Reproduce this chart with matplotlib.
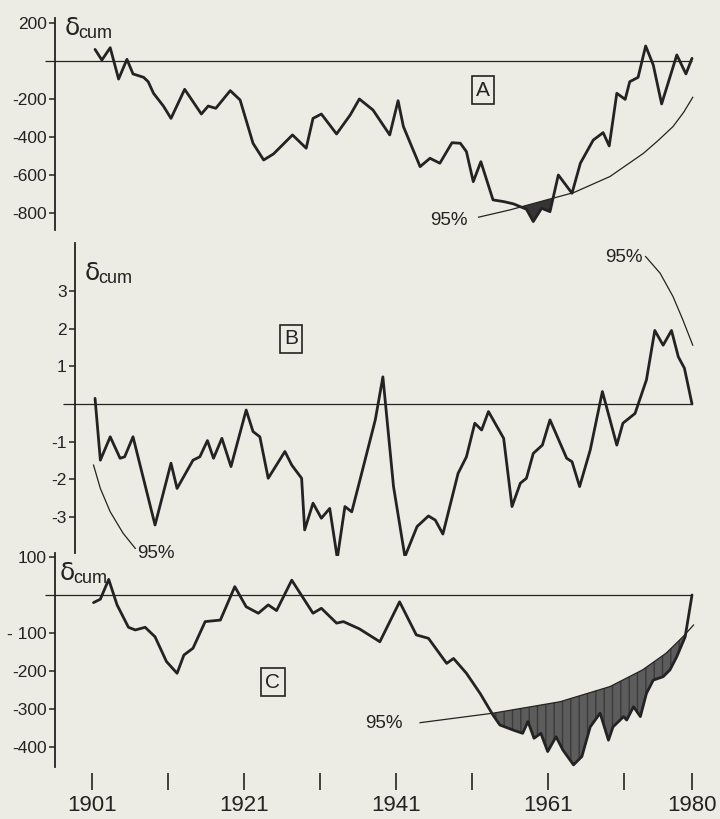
import numpy as np
import matplotlib.pyplot as plt

plt.rcParams['font.family'] = ['Liberation Sans', 'DejaVu Sans']

# cumulative deviations, panel A
yearsA = [1901.4, 1902.3, 1903.4, 1904.5, 1905.6, 1906.4, 1907.8, 1908.4, 1909.1, 1910.4,
          1911.4, 1913.2, 1915.4, 1916.3, 1917.3, 1919.2, 1920.5, 1922.2, 1923.6, 1924.9,
          1927.4, 1929.2, 1930.1, 1931.2, 1933.2, 1935.0, 1936.2, 1938.0, 1940.2, 1941.3,
          1942.0, 1944.2, 1945.5, 1946.8, 1948.4, 1949.5, 1950.3, 1951.2, 1952.2, 1953.8,
          1955.2, 1956.5, 1958.2, 1959.1, 1960.2, 1961.3, 1962.4, 1964.2, 1965.3, 1967.0,
          1968.3, 1969.1, 1970.1, 1971.2, 1971.8, 1972.9, 1973.9, 1974.9, 1976.0, 1978.0,
          1979.2, 1980.0]
cumA = [61, 5, 70, -95, 9, -68, -86, -109, -170, -237,
        -302, -149, -279, -237, -249, -156, -205, -433, -521, -489,
        -389, -459, -302, -279, -384, -284, -200, -258, -389, -209,
        -345, -556, -512, -538, -430, -433, -477, -635, -530, -731,
        -740, -752, -780, -845, -775, -793, -600, -696, -538, -416,
        -377, -447, -170, -202, -109, -86, 79, -21, -226, 32,
        -68, 14]
bandA_years = [1951.9, 1956.0, 1960.4, 1964.4, 1969.2, 1973.6, 1975.5, 1977.5, 1978.9, 1980.1]
bandA = [-822, -784, -736, -693, -608, -486, -420, -345, -270, -191]

# panel B
yearsB = [1901.4, 1902.1, 1903.4, 1904.7, 1905.3, 1906.4, 1909.3, 1911.4, 1912.2, 1914.3,
          1915.2, 1916.2, 1917.0, 1918.1, 1919.3, 1921.3, 1922.2, 1923.1, 1924.2, 1926.4,
          1927.3, 1928.6, 1929.0, 1930.1, 1931.2, 1932.3, 1933.3, 1934.3, 1935.2, 1936.3,
          1938.3, 1939.3, 1940.7, 1942.2, 1943.8, 1945.3, 1946.2, 1947.2, 1949.2, 1950.3,
          1951.4, 1952.3, 1953.2, 1955.2, 1956.3, 1957.4, 1958.2, 1959.1, 1960.3, 1961.3,
          1963.5, 1964.2, 1965.2, 1966.6, 1968.2, 1970.1, 1970.9, 1972.5, 1974.0, 1975.1,
          1976.2, 1977.3, 1978.2, 1979.0, 1980.0]
cumB = [0.15, -1.49, -0.87, -1.44, -1.40, -0.87, -3.21, -1.57, -2.24, -1.49,
        -1.40, -0.97, -1.44, -0.91, -1.66, -0.16, -0.73, -0.87, -1.97, -1.26,
        -1.62, -1.97, -3.34, -2.63, -3.03, -2.77, -4.09, -2.72, -2.86, -2.0,
        -0.42, 0.72, -2.19, -4.05, -3.25, -2.97, -3.08, -3.45, -1.84, -1.40,
        -0.51, -0.69, -0.20, -0.91, -2.72, -2.10, -1.97, -1.31, -1.09, -0.42,
        -1.44, -1.53, -2.19, -1.22, 0.33, -1.09, -0.51, -0.25, 0.64, 1.95,
        1.56, 1.95, 1.25, 0.95, 0.0]
bandB_low_years = [1901.2, 1902.1, 1903.4, 1905.1, 1906.7]
bandB_low = [-1.62, -2.24, -2.86, -3.43, -3.83]
bandB_high_years = [1973.9, 1975.8, 1977.5, 1978.8, 1980.1]
bandB_high = [3.91, 3.47, 2.85, 2.23, 1.56]

# panel C
yearsC = [1901.2, 1902.1, 1903.2, 1904.3, 1905.8, 1906.7, 1908.0, 1909.3, 1910.8, 1912.2,
          1913.1, 1914.3, 1915.9, 1917.9, 1919.8, 1921.3, 1922.9, 1924.2, 1925.3, 1927.3,
          1930.1, 1931.2, 1933.2, 1934.1, 1936.2, 1938.9, 1941.5, 1943.7, 1945.3, 1947.7,
          1948.6, 1950.3, 1952.1, 1953.8, 1954.7, 1956.4, 1957.7, 1958.4, 1959.2, 1960.1,
          1961.0, 1962.1, 1963.0, 1964.4, 1965.5, 1966.6, 1967.9, 1969.0, 1969.6, 1971.0,
          1971.4, 1972.3, 1973.2, 1974.0, 1974.9, 1976.2, 1977.1, 1978.0, 1979.1, 1980.0]
cumC = [-20, -11, 41, -26, -85, -92, -85, -110, -175, -206,
        -158, -140, -70, -66, 22, -31, -48, -26, -41, 39,
        -48, -35, -74, -70, -89, -123, -18, -105, -114, -180,
        -167, -206, -259, -316, -342, -355, -364, -333, -377, -364,
        -412, -373, -408, -447, -425, -347, -311, -382, -347, -320,
        -329, -294, -320, -259, -224, -215, -197, -162, -110, 0]
bandC_years = [1944.2, 1953.8, 1962.6, 1969.2, 1973.5, 1976.6, 1978.8, 1980.2]
bandC = [-336, -311, -281, -241, -197, -153, -110, -79]

tick_years = [1901, 1911, 1921, 1931, 1941, 1951, 1961, 1971, 1980]
tick_year_labels = ['1901', '', '1921', '', '1941', '', '1961', '', '1980']

W, H = 720, 819
PAPER = '#ecebe4'
INK = '#232323'


def year_at(px):
    return 1901 + (px - 92) / 7.595


fig = plt.figure(figsize=(W / 100, H / 100), dpi=100, facecolor=PAPER)


def panel(top, bottom, zero, ppu, spine_px, spine_top, spine_bot, line_from):
    ax = fig.add_axes([40 / W, 1 - bottom / H, 665 / W, (bottom - top) / H])
    ax.set_facecolor('none')
    ax.set_xlim(year_at(40), year_at(705))
    ax.set_ylim((zero - bottom) / ppu, (zero - top) / ppu)
    for s in ['top', 'right', 'bottom']:
        ax.spines[s].set_visible(False)
    ax.spines['left'].set_position(('data', year_at(spine_px)))
    ax.spines['left'].set_bounds((zero - spine_bot) / ppu, (zero - spine_top) / ppu)
    ax.spines['left'].set_linewidth(1.3)
    ax.spines['left'].set_color(INK)
    ax.tick_params(axis='y', direction='out', length=4, width=1.1, pad=2,
                   colors=INK, labelsize=12.5)
    ax.set_xticks([])
    ax.hlines(0, year_at(line_from), 1980, color=INK, lw=0.9, clip_on=False)
    return ax


def fig_text(px, py, s, **kw):
    fig.text(px / W, 1 - py / H, s, color=INK, **kw)


def cum_label(px, py):
    fig_text(px, py, 'δ', fontsize=18, va='baseline', family='DejaVu Sans')
    fig_text(px + 13, py + 3, 'cum', fontsize=13, va='baseline')


def box_label(px, py, s):
    fig_text(px, py, s, fontsize=15, ha='center', va='center',
             bbox=dict(boxstyle='square,pad=0.2', fc='none', ec=INK, lw=1.2))


line_kw = dict(color=INK, lw=2.0, solid_joinstyle='round', solid_capstyle='round')
band_kw = dict(color=INK, lw=0.9)

# A
axA = panel(15, 232, 61, 0.19, 55, 18, 230, 45)
axA.set_yticks([200, -200, -400, -600, -800])
axA.set_yticklabels(['200', '-200', '-400', '-600', '-800'])
axA.plot(yearsA, cumA, **line_kw)
axA.plot(bandA_years, bandA, **band_kw)
xa = np.array(yearsA, dtype=float)
ya = np.array(cumA, dtype=float)
ba = np.interp(xa, bandA_years, bandA, left=np.nan, right=np.nan)
axA.fill_between(xa, ya, ba, where=ya < ba, interpolate=True, color='#353535', lw=0)
fig_text(468, 225, '95%', fontsize=13.5, ha='right', va='baseline')
cum_label(65, 35)
box_label(483, 90, 'A')

# B
axB = panel(240, 556, 404, 37.7, 75, 243, 553, 63)
axB.set_yticks([3, 2, 1, -1, -2, -3])
axB.set_yticklabels(['3', '2', '1', '-1', '-2', '-3'])
axB.plot(yearsB, cumB, **line_kw)
axB.plot(bandB_low_years, bandB_low, **band_kw)
axB.plot(bandB_high_years, bandB_high, **band_kw)
fig_text(137, 558, '95%', fontsize=13.5, ha='left', va='baseline')
fig_text(643, 262, '95%', fontsize=13.5, ha='right', va='baseline')
cum_label(85, 280)
box_label(291, 339, 'B')

# C
axC = panel(550, 770, 595, 0.38, 55, 553, 767, 45)
axC.set_yticks([100, -100, -200, -300, -400])
axC.set_yticklabels(['100', '- 100', '-200', '-300', '-400'])
axC.plot(yearsC, cumC, **line_kw)
axC.plot(bandC_years, bandC, **band_kw)
xc = np.array(yearsC, dtype=float)
yc = np.array(cumC, dtype=float)
bc = np.interp(xc, bandC_years, bandC, left=np.nan, right=np.nan)
axC.fill_between(xc, yc, bc, where=yc < bc, interpolate=True,
                 facecolor='#5c5c5c', edgecolor='#3a3a3a', hatch='||', lw=0)
fig_text(365, 728, '95%', fontsize=13.5, ha='left', va='baseline')
cum_label(60, 580)
box_label(273, 682, 'C')

# shared year axis under the bottom panel
axC.spines['bottom'].set_position(('outward', 2))
axC.set_xticks(tick_years)
axC.set_xticklabels(tick_year_labels)
axC.tick_params(axis='x', direction='out', length=12, width=1.2, pad=4,
                colors=INK, labelsize=16)

fig.savefig('out.png', dpi=100, facecolor=PAPER)
